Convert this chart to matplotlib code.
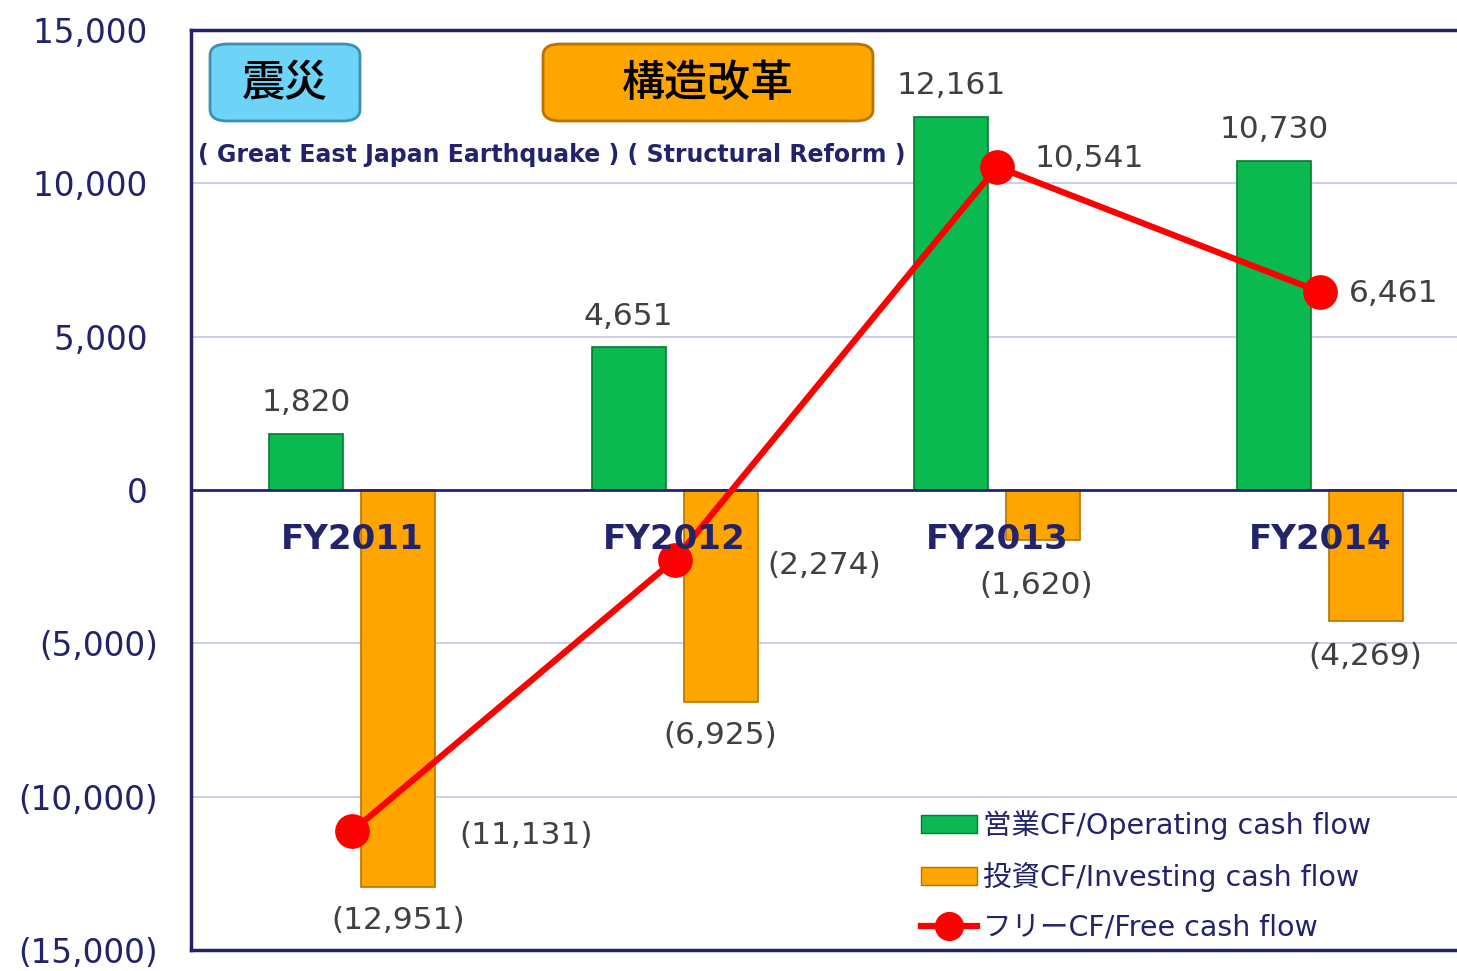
import matplotlib.pyplot as plt
from matplotlib.patches import FancyBboxPatch, Patch
from matplotlib.lines import Line2D

plt.rcParams['font.family'] = ['DejaVu Sans', 'Noto Sans CJK JP']

years = ["FY2011", "FY2012", "FY2013", "FY2014"]
operating_cf = [1820, 4651, 12161, 10730]
investing_cf = [-12951, -6925, -1620, -4269]
free_cf = [-11131, -2274, 10541, 6461]
yticks = [-15000, -10000, -5000, 0, 5000, 10000, 15000]

navy = "#23236B"
green = "#0AB950"
orange = "#FFA500"
label_gray = "#404040"


def fmt(v):
    return f"({abs(v):,})" if v < 0 else f"{v:,}"


fig = plt.figure(figsize=(14.57, 9.71), dpi=100)
ax = fig.add_axes([191 / 1457, 21 / 971, 1 - 191 / 1457, 920 / 971])

x = list(range(len(years)))
w = 0.229
off = 0.1426
xg = [i - off for i in x]
xo = [i + off for i in x]

ax.bar(xg, operating_cf, width=w, color=green, edgecolor="#067A34", linewidth=1.2, zorder=3)
ax.bar(xo, investing_cf, width=w, color=orange, edgecolor="#B57400", linewidth=1.2, zorder=3)
ax.plot(x, free_cf, color="#FF0000", lw=4.5, marker="o", ms=24, zorder=5)

ax.set_xlim(-0.499, 3.425)
ax.set_ylim(-15000, 15000)
ax.set_yticks(yticks)
# positives get a trailing space so the closing parentheses hang to the right
ax.set_yticklabels([fmt(v) if v < 0 else fmt(v) + " " for v in yticks], fontsize=23.5, color=navy)
ax.set_xticks([])
ax.tick_params(axis="y", length=0, pad=24)

for v in [-10000, -5000, 5000, 10000]:
    ax.axhline(v, color="#C4C4EC", lw=1.2, zorder=1)
ax.axhline(0, color=navy, lw=2, zorder=4)

for s in ["top", "left", "bottom"]:
    ax.spines[s].set_color(navy)
    ax.spines[s].set_linewidth(2.5)
ax.spines["right"].set_visible(False)

# bar labels
for xi, v in zip(xg, operating_cf):
    ax.text(xi, v + 550, fmt(v), ha="center", va="bottom", fontsize=22.5, color=label_gray, zorder=6)
inv_pos = [(0.142, -14050), (0.142, -8020), (0.12, -3125), (0.141, -5420)]
for (dx, yy), xi, v in zip(inv_pos, x, investing_cf):
    ax.text(xi + dx, yy, fmt(v), ha="center", va="center", fontsize=22.5, color=label_gray, zorder=6)
free_pos = [(0.54, -11250), (0.465, -2450), (0.285, 10800), (0.23, 6400)]
for (dx, yy), xi, v in zip(free_pos, x, free_cf):
    ax.text(xi + dx, yy, fmt(v), ha="center", va="center", fontsize=22.5, color=label_gray, zorder=6)

for xi, yr in zip(x, years):
    ax.text(xi, -1600, yr, ha="center", va="center", fontsize=24.5, fontweight="bold", color=navy, zorder=7)

# badges
b1 = FancyBboxPatch((210 / 1457, 1 - 121 / 971), 150 / 1457, 77 / 971,
                    boxstyle="round,pad=0,rounding_size=0.012", transform=fig.transFigure,
                    facecolor="#6DD3F7", edgecolor="#3C8FB5", lw=2, zorder=10)
b2 = FancyBboxPatch((543 / 1457, 1 - 121 / 971), 330 / 1457, 77 / 971,
                    boxstyle="round,pad=0,rounding_size=0.012", transform=fig.transFigure,
                    facecolor="#FFA500", edgecolor="#B87300", lw=2, zorder=10)
fig.patches.extend([b1, b2])
fig.text(285 / 1457, 1 - 84 / 971, "震災", ha="center", va="center", fontsize=31,
         fontweight="medium", family=["Noto Sans CJK JP"], color="black", zorder=11)
fig.text(708 / 1457, 1 - 84 / 971, "構造改革", ha="center", va="center", fontsize=31,
         fontweight="medium", family=["Noto Sans CJK JP"], color="black", zorder=11)
fig.text(198 / 1457, 1 - 155 / 971, "( Great East Japan Earthquake ) ( Structural Reform )",
         ha="left", va="center", fontsize=17, fontweight="bold", color=navy)

handles = [
    Patch(facecolor=green, edgecolor="#067A34"),
    Patch(facecolor=orange, edgecolor="#B57400"),
    Line2D([0], [0], color="#FF0000", lw=4.5, marker="o", ms=20),
]
labels = ["営業CF/Operating cash flow", "投資CF/Investing cash flow", "フリーCF/Free cash flow"]
leg = ax.legend(handles, labels, loc="lower left", bbox_to_anchor=(0.577, 0.0095),
                frameon=False, fontsize=20.5, handlelength=1.95, handleheight=0.6,
                handletextpad=0.2, labelspacing=0.76, borderaxespad=0, borderpad=0)
for t in leg.get_texts():
    t.set_color(navy)

fig.savefig("out.png", dpi=100)
